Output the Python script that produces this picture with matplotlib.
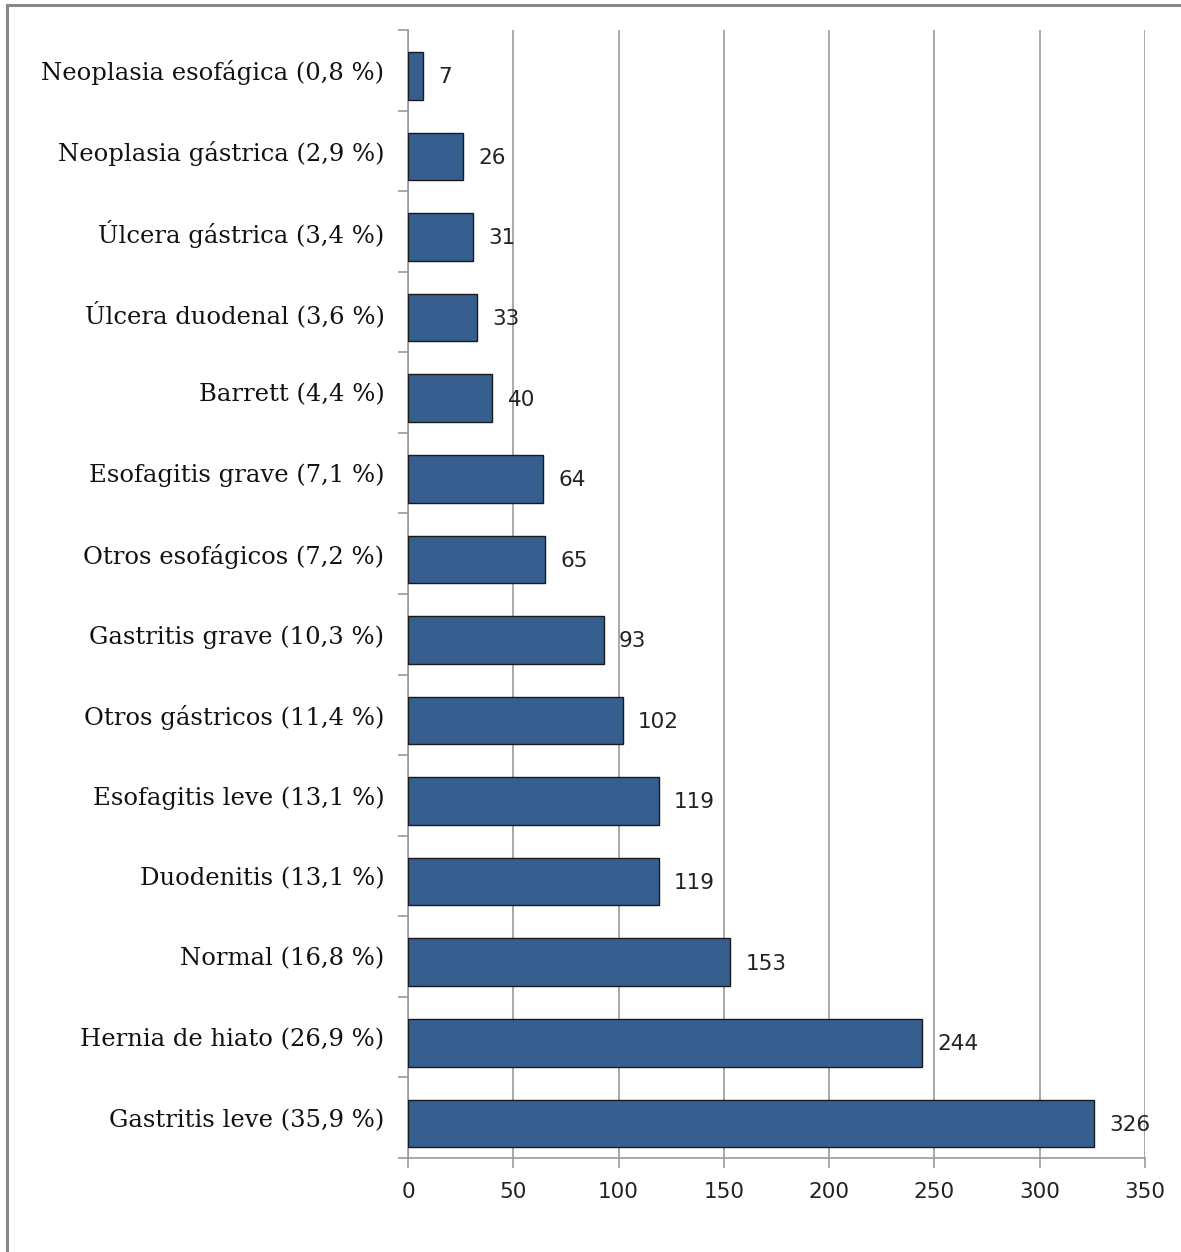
import matplotlib
matplotlib.use("Agg")
import matplotlib.pyplot as plt
from matplotlib.lines import Line2D
import numpy as np

categories = [
    "Neoplasia esofágica (0,8 %)",
    "Neoplasia gástrica (2,9 %)",
    "Úlcera gástrica (3,4 %)",
    "Úlcera duodenal (3,6 %)",
    "Barrett (4,4 %)",
    "Esofagitis grave (7,1 %)",
    "Otros esofágicos (7,2 %)",
    "Gastritis grave (10,3 %)",
    "Otros gástricos (11,4 %)",
    "Esofagitis leve (13,1 %)",
    "Duodenitis (13,1 %)",
    "Normal (16,8 %)",
    "Hernia de hiato (26,9 %)",
    "Gastritis leve (35,9 %)",
]
values = [7, 26, 31, 33, 40, 64, 65, 93, 102, 119, 119, 153, 244, 326]
xticks = [0, 50, 100, 150, 200, 250, 300, 350]

fig = plt.figure(figsize=(11.81, 12.52), dpi=100)
ax = fig.add_axes([408/1181, 1 - 1158/1252, (1145 - 408)/1181, (1158 - 30)/1252])

n = len(categories)
y = np.arange(n)
bar_y = y + 0.07
bars = ax.barh(bar_y, values, height=0.59, color="#365F8F", edgecolor="#1a1a1a", linewidth=1.0, zorder=3)
ax.set_ylim(n - 0.5, -0.5)
ax.set_xlim(0, 350)
ax.set_xticks(xticks)
ax.set_xticklabels([str(t) for t in xticks], fontsize=15.5, color="#222222", family="DejaVu Sans")
ax.set_yticks(y)
ax.set_yticklabels(categories, fontsize=17.5, family="DejaVu Serif", color="#111111")
ax.set_yticks(np.arange(n + 1) - 0.5, minor=True)
ax.tick_params(axis="y", which="major", length=0, pad=17)
ax.tick_params(axis="y", which="minor", length=7, width=1.2, color="#999999", direction="out")
ax.tick_params(axis="x", which="major", length=7, width=1.2, color="#999999", direction="out", pad=10)

ax.grid(axis="x", color="#9a9a9a", linewidth=1.2, zorder=0)
for s in ["top", "right"]:
    ax.spines[s].set_visible(False)
for s in ["left", "bottom"]:
    ax.spines[s].set_color("#999999")
    ax.spines[s].set_linewidth(1.2)

for yi, v in zip(bar_y, values):
    ax.annotate(str(v), xy=(v, yi), xytext=(11, -1), textcoords="offset points",
                va="center", ha="left", fontsize=15.5, color="#222222", family="DejaVu Sans")

# figure border (left and top)
fig.add_artist(Line2D([7/1181, 7/1181], [0, 1 - 5/1252], transform=fig.transFigure, color="#888888", linewidth=2.2))
fig.add_artist(Line2D([7/1181, 1], [1 - 5/1252, 1 - 5/1252], transform=fig.transFigure, color="#888888", linewidth=2.2))

fig.savefig("out.png", dpi=100)
